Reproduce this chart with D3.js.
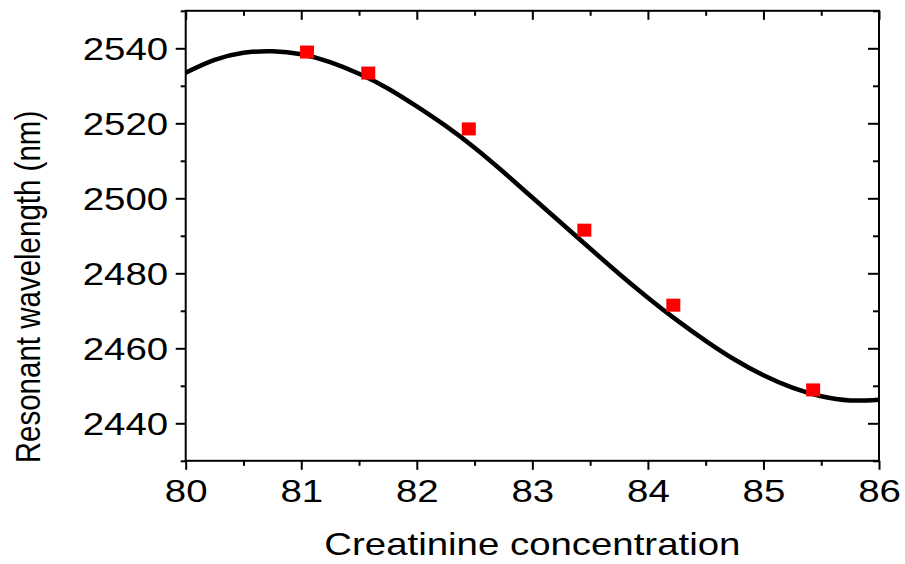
<!DOCTYPE html>
<html>
<head>
<meta charset="utf-8">
<script src="https://cdn.jsdelivr.net/npm/d3@7"></script>
<style>
	body { margin: 0; background: #fff; }
	svg { display: block; font-family: "Liberation Sans", Arial, sans-serif; }
</style>
</head>
<body>
<div id="chart"></div>
<script>
// measured points
const concentration = [81.05, 81.58, 82.45, 83.45, 84.22, 85.43];
const wavelength = [2539.0, 2533.4, 2518.5, 2491.5, 2471.5, 2448.9];

// fitted curve
const fitX = [80.0, 80.25, 80.5, 80.75, 81.0, 81.25, 81.5, 81.75, 82.0, 82.25, 82.5, 82.75,
	83.0, 83.25, 83.5, 83.75, 84.0, 84.25, 84.5, 84.75, 85.0, 85.25, 85.5, 85.75, 86.0];
const fitY = [2533.5, 2536.9, 2538.8, 2539.2, 2538.4, 2536.3, 2533.2, 2529.3, 2524.5, 2519.3, 2513.5, 2507.0,
	2500.2, 2493.4, 2486.6, 2479.9, 2473.5, 2467.5, 2462.0, 2457.0, 2452.8, 2449.5, 2447.2, 2446.1, 2446.3];

const xTicks = [80, 81, 82, 83, 84, 85, 86];
const xMinor = [80.5, 81.5, 82.5, 83.5, 84.5, 85.5];
const yTicks = [2440, 2460, 2480, 2500, 2520, 2540];
const yMinor = [2430, 2450, 2470, 2490, 2510, 2530, 2550];

const xTitle = "Creatinine concentration";
const yTitle = "Resonant wavelength (nm)";

const W = 905, H = 564;
const margin = {top: 10.8, right: 26, bottom: 103.2, left: 185.7};
const width = W - margin.left - margin.right;
const height = H - margin.top - margin.bottom;
const sx = 1.24; // the picture is stretched sideways

const x = d3.scaleLinear().domain([80, 86]).range([0, width]);
const y = d3.scaleLinear().domain([2430, 2550]).range([height, 0]);

/* eslint-disable indent */
const svg = d3.select("#chart")
	.append("svg")
		.attr("width", W)
		.attr("height", H);
const g = svg.append("g")
		.attr("transform", `translate(${margin.left},${margin.top})`);

g.append("clipPath")
		.attr("id", "clip")
	.append("rect")
		.attr("width", width)
		.attr("height", height);

// fit curve
g.append("path")
		.datum(fitX.map((v, i) => [v, fitY[i]]))
		.attr("clip-path", "url(#clip)")
		.attr("fill", "none")
		.attr("stroke", "#000")
		.attr("stroke-width", 4.5)
		.attr("d", d3.line().x(d => x(d[0])).y(d => y(d[1])).curve(d3.curveNatural));

// markers
const ms = 14;
g.selectAll("rect.pt")
	.data(concentration.map((v, i) => [v, wavelength[i]]))
	.join("rect")
		.attr("class", "pt")
		.attr("x", d => x(d[0]) - ms / 2)
		.attr("y", d => y(d[1]) - ms / 2 + 0.5)
		.attr("width", ms)
		.attr("height", ms - 1)
		.attr("fill", "#ff0000");

function styleAxis(sel) {
	sel.select(".domain").remove();
	sel.selectAll("line").attr("stroke", "#000").attr("stroke-width", 2);
}

// bottom axis
const bx = g.append("g")
		.attr("transform", `translate(0,${height})`)
		.call(d3.axisBottom(x).tickValues(xTicks).tickSize(9).tickFormat(d3.format("d")));
bx.selectAll("text")
		.attr("y", 41.5)
		.attr("dy", 0)
		.attr("font-size", 31)
		.attr("fill", "#000")
		.attr("transform", `scale(${sx},1)`);
styleAxis(bx);
g.append("g")
		.attr("transform", `translate(0,${height})`)
		.call(d3.axisBottom(x).tickValues(xMinor).tickSize(5).tickFormat(""))
		.call(styleAxis);

// top axis, ticks inside
g.append("g")
		.call(d3.axisTop(x).tickValues(xTicks).tickSize(-9).tickFormat(""))
		.call(styleAxis);
g.append("g")
		.call(d3.axisTop(x).tickValues(xMinor).tickSize(-5).tickFormat(""))
		.call(styleAxis);

// left axis
const ly = g.append("g")
		.call(d3.axisLeft(y).tickValues(yTicks).tickSize(10).tickFormat(d3.format("d")));
ly.selectAll("text")
		.attr("x", -17.5 / sx)
		.attr("dy", "0.36em")
		.attr("font-size", 31)
		.attr("fill", "#000")
		.attr("transform", `scale(${sx},1)`);
styleAxis(ly);
g.append("g")
		.call(d3.axisLeft(y).tickValues(yMinor).tickSize(5).tickFormat(""))
		.call(styleAxis);

// right axis, ticks inside
g.append("g")
		.attr("transform", `translate(${width},0)`)
		.call(d3.axisRight(y).tickValues(yTicks).tickSize(-11).tickFormat(""))
		.call(styleAxis);
g.append("g")
		.attr("transform", `translate(${width},0)`)
		.call(d3.axisRight(y).tickValues(yMinor).tickSize(-6).tickFormat(""))
		.call(styleAxis);

// frame
g.append("rect")
		.attr("width", width)
		.attr("height", height)
		.attr("fill", "none")
		.attr("stroke", "#000")
		.attr("stroke-width", 2);

// axis titles
svg.append("text")
		.attr("transform", `translate(${margin.left + width / 2},555) scale(1.2,1)`)
		.attr("text-anchor", "middle")
		.attr("font-size", 32)
		.attr("fill", "#000")
		.text(xTitle);

svg.append("text")
		.attr("transform", `translate(40,287) scale(1.2,1) rotate(-90)`)
		.attr("text-anchor", "middle")
		.attr("font-size", 29.5)
		.attr("fill", "#000")
		.text(yTitle);
/* eslint-enable */
</script>
</body>
</html>
